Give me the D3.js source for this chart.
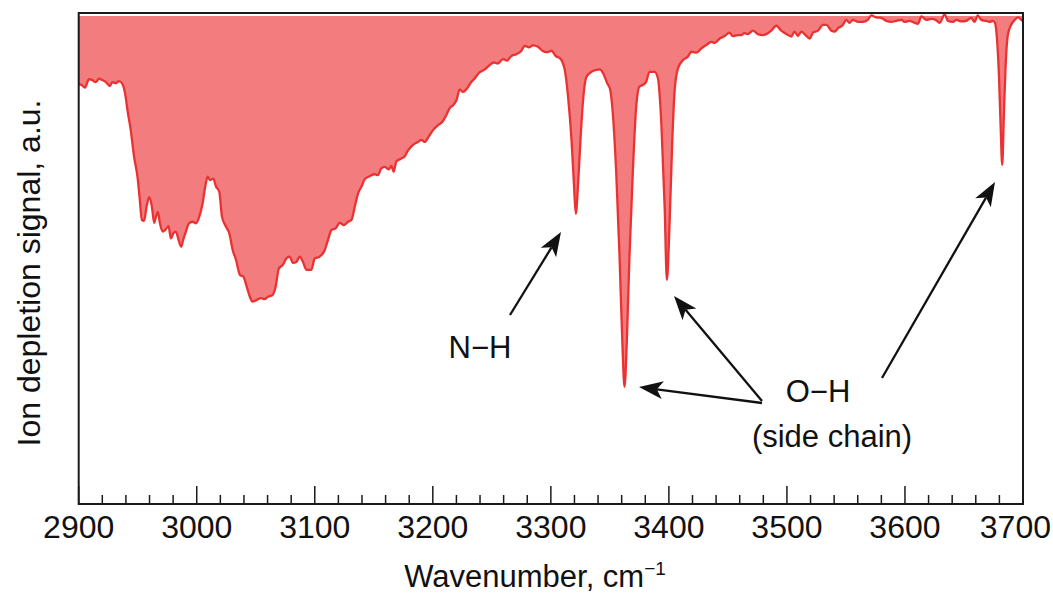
<!DOCTYPE html>
<html>
<head>
<meta charset="utf-8">
<script src="https://cdn.jsdelivr.net/npm/d3@7"></script>
<style>
  html, body { margin: 0; padding: 0; background: #fff; }
  svg { display: block; }
  text { font-family: "Liberation Sans", Arial, Helvetica, sans-serif; fill: #111; }
</style>
</head>
<body>
<svg id="chart" width="1053" height="595"></svg>
<script>
// IR photodissociation spectrum: wavenumber (cm^-1) and ion depletion (a.u., grows downward)
const wavenumber = [
  2900.0, 2902.5, 2905.3, 2908.7, 2911.6, 2914.4, 2917.2, 2920.1, 2923.5, 2926.3,
  2928.6, 2931.4, 2934.2, 2937.1, 2939.3, 2941.3, 2944.1, 2946.9, 2949.8, 2951.8,
  2953.5, 2955.4, 2957.5, 2959.7, 2962.0, 2963.9, 2965.4, 2967.1, 2968.8, 2971.1,
  2973.3, 2976.1, 2978.1, 2980.1, 2982.3, 2984.6, 2986.8, 2988.5, 2990.8, 2993.6,
  2996.5, 2999.3, 3002.1, 3005.0, 3007.2, 3009.3, 3011.2, 3014.0, 3016.3, 3019.1,
  3021.4, 3024.8, 3027.6, 3030.5, 3033.3, 3036.7, 3039.5, 3042.4, 3045.0, 3047.3,
  3050.5, 3054.7, 3057.5, 3060.3, 3064.0, 3066.8, 3069.6, 3073.0, 3075.9, 3078.7,
  3081.5, 3084.4, 3087.2, 3090.0, 3092.9, 3097.1, 3099.9, 3104.2, 3108.4, 3111.2,
  3114.1, 3117.8, 3121.2, 3124.6, 3128.2, 3131.1, 3133.9, 3136.7, 3139.6, 3142.4,
  3146.6, 3150.7, 3153.5, 3156.4, 3159.2, 3162.8, 3164.9, 3166.8, 3169.1, 3173.3,
  3176.1, 3178.9, 3183.2, 3187.4, 3190.3, 3193.1, 3196.8, 3200.2, 3204.4, 3208.1,
  3211.5, 3214.3, 3217.1, 3220.0, 3222.8, 3225.6, 3229.0, 3231.9, 3235.6, 3239.2,
  3244.1, 3248.3, 3251.5, 3255.1, 3259.4, 3262.8, 3266.5, 3270.8, 3275.0, 3277.8,
  3281.5, 3284.9, 3289.1, 3292.8, 3296.7, 3300.5, 3304.2, 3307.5, 3309.0, 3311.8,
  3314.6, 3317.5, 3319.4, 3321.1, 3323.1, 3325.1, 3327.3, 3330.2, 3334.4, 3338.7,
  3341.5, 3344.3, 3347.7, 3350.3, 3352.5, 3355.4, 3358.2, 3360.5, 3362.4, 3364.4,
  3366.6, 3369.4, 3372.3, 3375.1, 3377.9, 3380.8, 3383.6, 3387.9, 3390.7, 3393.6,
  3396.4, 3398.3, 3400.6, 3402.9, 3404.9, 3407.7, 3412.0, 3416.1, 3419.0, 3423.3,
  3427.5, 3431.8, 3436.0, 3438.8, 3443.0, 3447.3, 3451.3, 3454.1, 3458.4, 3461.3,
  3464.1, 3466.9, 3471.1, 3475.4, 3479.6, 3482.5, 3486.7, 3491.0, 3495.2, 3499.5,
  3503.7, 3506.5, 3509.3, 3512.2, 3515.8, 3519.2, 3522.1, 3526.3, 3530.5, 3533.4,
  3537.7, 3540.5, 3543.3, 3547.5, 3550.2, 3553.0, 3555.8, 3560.1, 3564.3, 3568.5,
  3571.4, 3575.7, 3579.9, 3584.2, 3588.4, 3592.7, 3596.9, 3599.7, 3603.9, 3608.2,
  3611.0, 3613.9, 3618.1, 3622.4, 3626.0, 3629.4, 3633.6, 3636.4, 3640.7, 3643.6,
  3647.8, 3651.9, 3656.1, 3658.9, 3661.7, 3664.6, 3668.8, 3671.7, 3674.5, 3676.2,
  3677.9, 3679.6, 3681.0, 3682.4, 3683.8, 3685.2, 3687.2, 3690.0, 3692.9, 3695.7,
  3698.6, 3699.9
];
const depletion = [
  14.3, 14.5, 15.0, 13.3, 13.5, 13.9, 13.2, 13.5, 14.0, 14.7,
  13.9, 14.1, 13.7, 14.3, 16.2, 19.6, 23.7, 29.1, 33.2, 38.0,
  42.0, 42.2, 39.3, 37.4, 39.3, 42.6, 41.4, 40.4, 42.7, 44.4,
  44.1, 43.3, 45.8, 44.8, 44.4, 46.1, 47.5, 46.1, 44.4, 42.7,
  42.4, 42.7, 41.4, 38.6, 35.2, 33.2, 33.9, 33.6, 35.2, 36.3,
  41.4, 43.4, 44.8, 48.2, 50.2, 53.3, 53.6, 55.7, 57.7, 58.7,
  58.4, 58.0, 58.2, 57.7, 57.4, 55.7, 51.9, 51.2, 49.9, 49.5,
  50.8, 50.6, 49.5, 50.6, 52.2, 52.2, 49.9, 49.5, 48.2, 46.1,
  44.1, 43.7, 42.6, 43.1, 42.4, 42.0, 39.3, 36.6, 35.2, 33.7,
  33.1, 32.7, 32.9, 31.5, 31.2, 31.7, 31.0, 32.2, 30.1, 29.5,
  29.1, 27.9, 26.7, 26.1, 25.7, 26.1, 24.9, 23.7, 22.7, 22.0,
  20.6, 19.2, 18.6, 17.6, 15.4, 15.9, 15.2, 14.1, 13.1, 12.0,
  11.3, 10.4, 9.9, 10.1, 9.2, 9.5, 8.6, 8.2, 7.5, 6.5,
  6.8, 6.4, 6.7, 7.5, 7.8, 7.5, 8.6, 9.0, 9.4, 11.4,
  16.9, 25.7, 33.9, 40.8, 34.6, 25.7, 17.6, 12.8, 11.8, 11.4,
  11.3, 12.1, 14.1, 15.5, 20.3, 32.5, 49.5, 66.5, 76.1, 66.5,
  49.5, 32.5, 18.9, 14.8, 14.5, 13.8, 11.8, 11.8, 13.1, 22.3,
  39.3, 54.3, 42.7, 25.7, 15.5, 11.1, 9.4, 8.7, 7.7, 7.9,
  7.0, 6.3, 5.7, 5.9, 5.0, 4.5, 3.8, 4.5, 4.3, 4.3,
  3.9, 4.1, 3.4, 4.1, 4.3, 4.1, 3.4, 2.4, 3.4, 4.1,
  4.6, 3.6, 4.5, 3.6, 4.3, 5.0, 3.8, 3.4, 2.2, 2.2,
  3.4, 3.6, 2.9, 2.2, 1.2, 1.8, 1.2, 1.6, 1.6, 1.2,
  0.3, 0.7, 0.8, 1.4, 1.6, 1.4, 1.2, 1.6, 1.4, 1.8,
  2.0, 0.5, 1.2, 1.0, 1.2, 1.8, 0.1, 1.4, 1.6, 1.2,
  1.5, 1.4, 0.8, 1.6, 0.3, 1.2, 1.4, 1.6, 1.4, 1.8,
  4.9, 12.4, 22.6, 30.8, 20.6, 11.0, 4.2, 2.2, 1.2, 0.7,
  1.2, 1.5
];

// Axis ticks
const majorTicks = [2900, 3000, 3100, 3200, 3300, 3400, 3500, 3600, 3700];
const minorTicks = d3.range(2920, 3700, 20).filter(v => v % 100 !== 0);

// Annotation texts
const labelNH = "N\u2212H";
const labelOH = ["O\u2212H", "(side chain)"];
const xTitle = "Wavenumber, cm";
const xTitleSup = "\u22121";
const yTitle = "Ion depletion signal, a.u.";

const svg = d3.select("#chart");
const W = 1053, H = 595;
const plot = { left: 78.7, right: 1023, top: 13, bottom: 504 };

const x = d3.scaleLinear().domain([2900, 3700]).range([plot.left, plot.right]);
const y = d3.scaleLinear().domain([0, 100]).range([14, 504]);

const data = wavenumber.map((w, i) => ({ w, v: depletion[i] }));

svg.append("rect").attr("width", W).attr("height", H).attr("fill", "#fff");

svg.append("defs").append("clipPath").attr("id", "plotclip")
  .append("rect")
  .attr("x", plot.left).attr("y", plot.top)
  .attr("width", plot.right - plot.left).attr("height", plot.bottom - plot.top);

const g = svg.append("g").attr("clip-path", "url(#plotclip)");

// Filled depletion area hanging from the zero line
const baseValue = 0.4;
const area = d3.area()
  .x(d => x(d.w))
  .y0(y(baseValue))
  .y1(d => y(d.v))
  .curve(d3.curveMonotoneX);

g.append("path").datum(data)
  .attr("d", area)
  .attr("fill", "#f27c7e");

const line = d3.line()
  .x(d => x(d.w))
  .y(d => y(d.v))
  .curve(d3.curveMonotoneX);

g.append("path").datum(data)
  .attr("d", line)
  .attr("fill", "none")
  .attr("stroke", "#ea3232")
  .attr("stroke-width", 2.3)
  .attr("stroke-linejoin", "round");

// Frame
const frameColor = "#1a1a1a";
svg.append("rect")
  .attr("x", plot.left).attr("y", plot.top)
  .attr("width", plot.right - plot.left).attr("height", plot.bottom - plot.top)
  .attr("fill", "none").attr("stroke", frameColor).attr("stroke-width", 2);

// Bottom axis: inward ticks
const xAxis = svg.append("g");
xAxis.selectAll("line.major").data(majorTicks).join("line")
  .attr("class", "major")
  .attr("x1", d => x(d)).attr("x2", d => x(d))
  .attr("y1", plot.bottom).attr("y2", plot.bottom - 18)
  .attr("stroke", frameColor).attr("stroke-width", 1.5);
xAxis.selectAll("line.minor").data(minorTicks).join("line")
  .attr("class", "minor")
  .attr("x1", d => x(d)).attr("x2", d => x(d))
  .attr("y1", plot.bottom).attr("y2", plot.bottom - 9)
  .attr("stroke", frameColor).attr("stroke-width", 1.5);
const lastTick = majorTicks[majorTicks.length - 1];
xAxis.selectAll("text").data(majorTicks).join("text")
  .attr("x", d => d === lastTick ? W - 2 : x(d))
  .attr("y", 538)
  .attr("text-anchor", d => d === lastTick ? "end" : "middle")
  .attr("font-size", 32)
  .text(d => d);

// Axis titles
const xt = svg.append("text")
  .attr("x", 535).attr("y", 587)
  .attr("text-anchor", "middle")
  .attr("font-size", 31);
xt.append("tspan").text(xTitle);
xt.append("tspan").attr("font-size", 19).attr("dy", -12).text(xTitleSup);

svg.append("text")
  .attr("transform", "translate(40,273) rotate(-90)")
  .attr("text-anchor", "middle")
  .attr("font-size", 32)
  .text(yTitle);

// Annotations
svg.append("text").attr("x", 480).attr("y", 358)
  .attr("text-anchor", "middle").attr("font-size", 31).text(labelNH);
svg.append("text").attr("x", 818).attr("y", 402)
  .attr("text-anchor", "middle").attr("font-size", 31).text(labelOH[0]);
svg.append("text").attr("x", 832).attr("y", 447)
  .attr("text-anchor", "middle").attr("font-size", 31).text(labelOH[1]);

function arrow(x1, y1, x2, y2) {
  const ang = Math.atan2(y2 - y1, x2 - x1);
  const len = 24, half = 9, notch = 6;
  const ux = Math.cos(ang), uy = Math.sin(ang);
  const px = -uy, py = ux;
  const bx = x2 - ux * len, by = y2 - uy * len;
  const nx = x2 - ux * (len - notch), ny = y2 - uy * (len - notch);
  svg.append("line")
    .attr("x1", x1).attr("y1", y1).attr("x2", nx).attr("y2", ny)
    .attr("stroke", "#111").attr("stroke-width", 2.3);
  svg.append("path")
    .attr("d", `M${x2},${y2} L${bx + px * half},${by + py * half} L${nx},${ny} L${bx - px * half},${by - py * half} Z`)
    .attr("fill", "#111");
}

arrow(510, 315, 561, 232);
arrow(762, 403, 639, 387);
arrow(762, 401, 674, 296);
arrow(882, 378, 995, 182);
</script>
</body>
</html>
